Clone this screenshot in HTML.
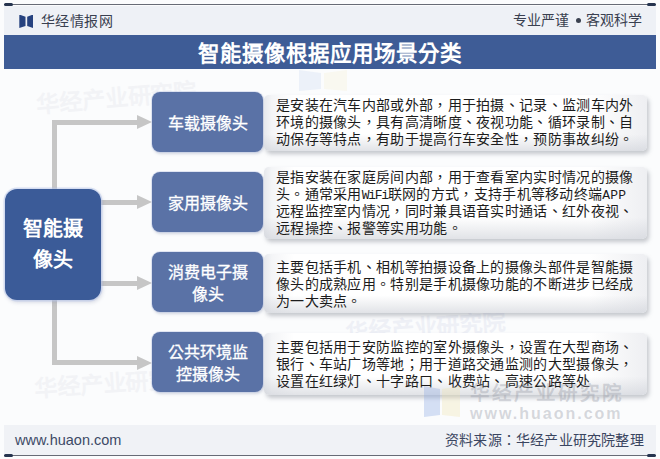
<!DOCTYPE html>
<html lang="zh-TW"><head><meta charset="utf-8">
<style>
*{margin:0;padding:0;box-sizing:border-box}
html,body{width:660px;height:459px;overflow:hidden;background:#fbfcfd;font-family:"Liberation Sans",sans-serif}
.a{position:absolute}
#topline{left:4px;top:3.8px;width:652px;height:1.4px;background:#676b76}
.cap{height:3px;width:8.5px;background:#26344f;border-radius:1.5px;top:3px}
#hdr{left:4px;top:6px;width:652px;height:29px;background:#eef1f6}
#title{left:4px;top:35px;width:652px;height:34px;padding-top:2px;background:#3e5c96;color:#fff;font-weight:bold;font-size:21.5px;line-height:34px;text-align:center}
#foot{left:4px;top:425px;width:652px;height:30px;background:#f0f2f6}
#botline{left:4px;top:454.5px;width:652px;height:1.3px;background:#676b76}
.hd{font-size:14px;color:#394050;line-height:16px;white-space:nowrap}
.vl{background:#c6c6c6}
.arrow{width:0;height:0;border-top:7px solid transparent;border-bottom:7px solid transparent;border-left:15px solid #c6c6c6}
.lab{left:152px;width:111px;height:60px;background:#5a72a6;border-radius:8px;color:#fff;font-size:16px;text-align:center;display:flex;align-items:center;justify-content:center;line-height:22.5px;padding-top:4px;-webkit-text-stroke:0.3px #fff;box-shadow:0 0 0 1px rgba(190,202,230,.45),1px 2px 3px rgba(120,130,160,.3)}
.desc{left:264px;width:383px;border-radius:5px;background:linear-gradient(180deg,rgba(255,255,255,0) 0%,rgba(255,255,255,0) 70%,rgba(205,208,215,.6) 100%),linear-gradient(90deg,#e6e8ec 0px,#f4f5f7 8px,#ffffff 30px,#ffffff 85%,#eeeff2 100%);box-shadow:2px 3px 4px rgba(95,100,115,.35)}
.tx{left:276px;font-size:14px;color:#1c1c1c;line-height:17px;white-space:nowrap;letter-spacing:0.3px}
.m{font-family:"Liberation Mono",monospace;font-size:13px;letter-spacing:-1.3px}
.m2{font-family:"Liberation Mono",monospace;font-size:13px;letter-spacing:0.2px}
.wm{color:#e2e4ea;white-space:nowrap}
</style></head><body>
<div class="a" id="hdr"></div>
<div class="a" id="topline"></div>
<div class="a cap" style="left:4px"></div>
<div class="a cap" style="left:647px"></div>

<svg class="a" style="left:19px;top:15px" width="15" height="13" viewBox="0 0 15 13">
<path d="M0.3 -0.5 L6.5 1.8 L6.5 11 L0.3 13 Z" fill="#26427f"/>
<path d="M14 -0.5 L8.2 1.8 L8.2 11 L14 13 Z" fill="#26427f"/>
</svg>
<div class="a hd" style="left:41px;top:13px;letter-spacing:0.4px">华经情报网</div>
<div class="a hd" style="left:513px;top:12px">专业严谨</div>
<div class="a" style="left:576px;top:18px;width:5px;height:5px;border-radius:50%;background:#3a4150"></div>
<div class="a hd" style="left:586px;top:12px">客观科学</div>

<div class="a" id="title">智能摄像根据应用场景分类</div>

<!-- watermarks -->
<svg class="a" style="left:298px;top:70px" width="50" height="21" viewBox="0 0 50 21">
<path d="M1 0 L23 3 L23 19 L1 21 Z" fill="rgba(170,195,235,.18)"/>
<path d="M49 0 L26 3 L26 19 L49 21 Z" fill="rgba(245,235,190,.2)"/>
</svg>
<div class="a wm" style="left:36px;top:86px;font-size:23px;font-weight:bold;color:#f2f3f6;transform:rotate(-5deg);transform-origin:0 50%">华经产业研究院</div>
<div class="a wm" style="left:345px;top:314px;font-size:23px;font-weight:bold;color:#eef0f6;transform:rotate(-4deg);transform-origin:0 50%">华经产业研究院</div>
<div class="a wm" style="left:34px;top:370px;font-size:23px;font-weight:bold;color:#f2f3f6;transform:rotate(-4deg);transform-origin:0 50%">华经产业研究院</div>

<!-- connectors -->
<div class="a vl" style="left:52px;top:120px;width:5px;height:245px"></div>
<div class="a vl" style="left:52px;top:120px;width:86px;height:4.5px"></div>
<div class="a vl" style="left:100px;top:200px;width:38px;height:4.5px"></div>
<div class="a vl" style="left:100px;top:281px;width:38px;height:4.5px"></div>
<div class="a vl" style="left:52px;top:360px;width:86px;height:4.5px"></div>
<div class="a arrow" style="left:137px;top:115px"></div>
<div class="a arrow" style="left:137px;top:195px"></div>
<div class="a arrow" style="left:137px;top:276px"></div>
<div class="a arrow" style="left:137px;top:355.5px"></div>

<!-- central -->
<div class="a" style="left:5px;top:189px;width:96px;height:111px;background:#3b5b98;border-radius:12px;box-shadow:0 0 0 1.5px rgba(185,200,235,.55),1px 2px 4px rgba(100,110,150,.3)"></div>
<div class="a" style="left:5px;top:214px;width:96px;text-align:center;color:#fff;font-weight:bold;font-size:20px;line-height:31px">智能摄<br>像头</div>

<!-- labels -->
<div class="a lab" style="top:92px">车载摄像头</div>
<div class="a lab" style="top:172px">家用摄像头</div>
<div class="a lab" style="top:252px">消费电子摄<br>像头</div>
<div class="a lab" style="top:332px">公共环境监<br>控摄像头</div>

<!-- desc boxes -->
<div class="a desc" style="top:95px;height:56px"></div>
<div class="a desc" style="top:167px;height:72px"></div>
<div class="a desc" style="top:254px;height:59px"></div>
<div class="a desc" style="top:333px;height:62px"></div>

<div class="a tx" style="top:97px">是安装在汽车内部或外部，用于拍摄、记录、监测车内外</div>
<div class="a tx" style="top:114px">环境的摄像头，具有高清晰度、夜视功能、循环录制、自</div>
<div class="a tx" style="top:131px">动保存等特点，有助于提高行车安全性，预防事故纠纷。</div>

<div class="a tx" style="top:169px">是指安装在家庭房间内部，用于查看室内实时情况的摄像</div>
<div class="a tx" style="top:186px">头。通常采用<span class="m">WiFi</span>联网的方式，支持手机等移动终端<span class="m2">APP</span></div>
<div class="a tx" style="top:203px">远程监控室内情况，同时兼具语音实时通话、红外夜视、</div>
<div class="a tx" style="top:220px">远程操控、报警等实用功能。</div>

<div class="a tx" style="top:259px">主要包括手机、相机等拍摄设备上的摄像头部件是智能摄</div>
<div class="a tx" style="top:276px">像头的成熟应用。特别是手机摄像功能的不断进步已经成</div>
<div class="a tx" style="top:293px">为一大卖点。</div>

<div class="a tx" style="top:339px">主要包括用于安防监控的室外摄像头，设置在大型商场、</div>
<div class="a tx" style="top:356px">银行、车站广场等地；用于道路交通监测的大型摄像头，</div>
<div class="a tx" style="top:373px">设置在红绿灯、十字路口、收费站、高速公路等处</div>

<svg class="a" style="left:423px;top:385px" width="38" height="33" viewBox="0 0 38 33">
<path d="M1 1 L17 4 L17 30 L1 32 Z" fill="rgba(140,170,225,.35)"/>
<path d="M37 1 L19 4 L19 30 L37 32 Z" fill="rgba(240,225,170,.3)"/>
</svg>
<div class="a wm" style="left:470px;top:381px;font-size:19.5px;line-height:24px;font-weight:bold;letter-spacing:2px;color:rgba(150,154,165,.38)">华经产业研究院</div>
<div class="a wm" style="left:470px;top:403.5px;font-size:16px;line-height:20px;font-weight:bold;letter-spacing:2.0px;color:rgba(150,154,165,.38)">www.huaon.com</div>
<div class="a" id="foot"></div>
<div class="a" id="botline"></div>
<div class="a cap" style="left:4px;top:454px"></div>
<div class="a cap" style="left:647px;top:454px"></div>
<div class="a hd" style="left:15px;top:432px;font-size:14.5px;color:#3d4a66">www.huaon.com</div>
<div class="a hd" style="left:445px;top:432px;letter-spacing:0.2px;color:#3a4560">资料来源：华经产业研究院整理</div>
</body></html>
